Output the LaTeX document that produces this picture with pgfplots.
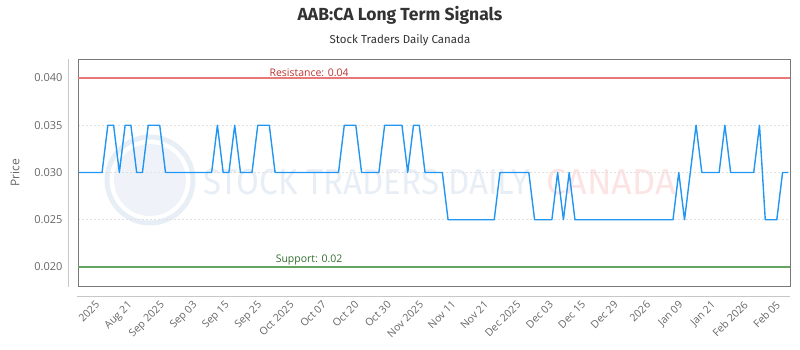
\documentclass[border=0pt]{standalone}
\usepackage{pgfplots}
\pgfplotsset{compat=1.18}
\usepackage{pgfplotstable}
\usepackage{fontspec}
\setmainfont{Open Sans}
\newfontfamily\titlefont{Fira Sans}
\definecolor{lineblue}{RGB}{33,150,243}
\definecolor{resline}{RGB}{232,120,120}
\definecolor{restext}{RGB}{190,50,50}
\definecolor{supline}{RGB}{100,165,100}
\definecolor{suptext}{RGB}{50,110,50}
\definecolor{ticktext}{RGB}{102,102,102}
\definecolor{frame}{RGB}{120,120,120}
\definecolor{wmblue}{RGB}{232,238,246}
\definecolor{wmred}{RGB}{253,228,228}

\pgfplotstableread{
x y
0 0.030
1 0.030
2 0.030
3 0.030
4 0.030
5 0.035
6 0.035
7 0.030
8 0.035
9 0.035
10 0.030
11 0.030
12 0.035
13 0.035
14 0.035
15 0.030
16 0.030
17 0.030
18 0.030
19 0.030
20 0.030
21 0.030
22 0.030
23 0.030
24 0.035
25 0.030
26 0.030
27 0.035
28 0.030
29 0.030
30 0.030
31 0.035
32 0.035
33 0.035
34 0.030
35 0.030
36 0.030
37 0.030
38 0.030
39 0.030
40 0.030
41 0.030
42 0.030
43 0.030
44 0.030
45 0.030
46 0.035
47 0.035
48 0.035
49 0.030
50 0.030
51 0.030
52 0.030
53 0.035
54 0.035
55 0.035
56 0.035
57 0.030
58 0.035
59 0.035
60 0.030
61 0.030
62 0.030
63 0.030
64 0.025
65 0.025
66 0.025
67 0.025
68 0.025
69 0.025
70 0.025
71 0.025
72 0.025
73 0.030
74 0.030
75 0.030
76 0.030
77 0.030
78 0.030
79 0.025
80 0.025
81 0.025
82 0.025
83 0.030
84 0.025
85 0.030
86 0.025
87 0.025
88 0.025
89 0.025
90 0.025
91 0.025
92 0.025
93 0.025
94 0.025
95 0.025
96 0.025
97 0.025
98 0.025
99 0.025
100 0.025
101 0.025
102 0.025
103 0.025
104 0.030
105 0.025
106 0.030
107 0.035
108 0.030
109 0.030
110 0.030
111 0.030
112 0.035
113 0.030
114 0.030
115 0.030
116 0.030
117 0.030
118 0.035
119 0.025
120 0.025
121 0.025
122 0.030
123 0.030
}\pricedata

\begin{document}
\begin{tikzpicture}
\useasboundingbox (0,0) rectangle (800bp,350bp);
% titles
\node[font=\titlefont\bfseries\fontsize{17.5bp}{20bp}\selectfont, text=black!80] at (400bp,335bp) {AAB:CA Long Term Signals};
\node[font=\titlefont\fontsize{11.5bp}{13bp}\selectfont, text=black!80] at (400bp,310bp) {Stock Traders Daily Canada};
% watermark
\draw[wmblue, line width=5bp] (150bp,170bp) circle (43bp);
\fill[wmblue!70] (150bp,170bp) circle (36bp);
\node[font=\titlefont\fontsize{36bp}{40bp}\selectfont, text=wmblue, xscale=0.92, anchor=west] at (200bp,168bp) {STOCK TRADERS DAILY};
\node[font=\titlefont\fontsize{36bp}{40bp}\selectfont, text=wmred, xscale=1.0, anchor=west] at (543bp,168bp) {CANADA};
% offset axis lines
\draw[black!22, line width=0.8bp] (68bp,63bp) -- (68bp,291bp);
\draw[black!22, line width=0.8bp] (77bp,54bp) -- (790bp,54bp);
\begin{axis}[
  at={(78bp,64bp)}, anchor=south west,
  scale only axis, width=712bp, height=227bp,
  xmin=-0.173, xmax=123.29, ymin=0.01799, ymax=0.04201,
  axis line style={frame, line width=0.8bp},
  xtick={3.70,9.32,14.94,20.56,26.18,31.80,37.42,43.04,48.66,54.28,59.90,65.52,71.14,76.76,82.38,88.00,93.62,99.24,104.86,110.48,116.10,121.72},
  xticklabels={2025,Aug 21,Sep 2025,Sep 03,Sep 15,Sep 25,Oct 2025,Oct 07,Oct 20,Oct 30,Nov 2025,Nov 11,Nov 21,Dec 2025,Dec 03,Dec 15,Dec 29,2026,Jan 09,Jan 21,Feb 2026,Feb 05},
  xticklabel style={rotate=45, anchor=north east, font=\fontsize{10.5bp}{12bp}\selectfont, text=ticktext, yshift=-2.5bp, xshift=-10.5bp},
  ytick={0.020,0.025,0.030,0.035,0.040},
  scaled y ticks=false,
  yticklabel style={font=\fontsize{11bp}{13bp}\selectfont, text=ticktext, xshift=-12bp, /pgf/number format/.cd, fixed, fixed zerofill, precision=3, assume math mode=true},
  major tick length=0,
  ymajorgrids, xmajorgrids=false,
  grid style={black!12, dash pattern=on 2bp off 2bp, line width=0.6bp},
  ylabel={Price},
  ylabel style={font=\fontsize{12bp}{14bp}\selectfont, text=ticktext, at={(-55bp,0.5)}, anchor=south},
  clip=true,
]
\addplot[resline, line width=1.4bp, forget plot] coordinates {(-1,0.04) (125,0.04)};
\addplot[supline, line width=1.4bp, forget plot] coordinates {(-1,0.02) (125,0.02)};
\node[text=restext, font=\fontsize{10.5bp}{12bp}\selectfont, anchor=south, inner sep=1bp] at (axis cs:39.9,0.040) {Resistance: 0.04};
\node[text=suptext, font=\fontsize{10.5bp}{12bp}\selectfont, anchor=south, inner sep=1.5bp] at (axis cs:39.9,0.020) {Support: 0.02};
\addplot[lineblue, line width=1.4bp, line join=round] table[x=x, y=y] {\pricedata};
\end{axis}
\end{tikzpicture}
\end{document}
